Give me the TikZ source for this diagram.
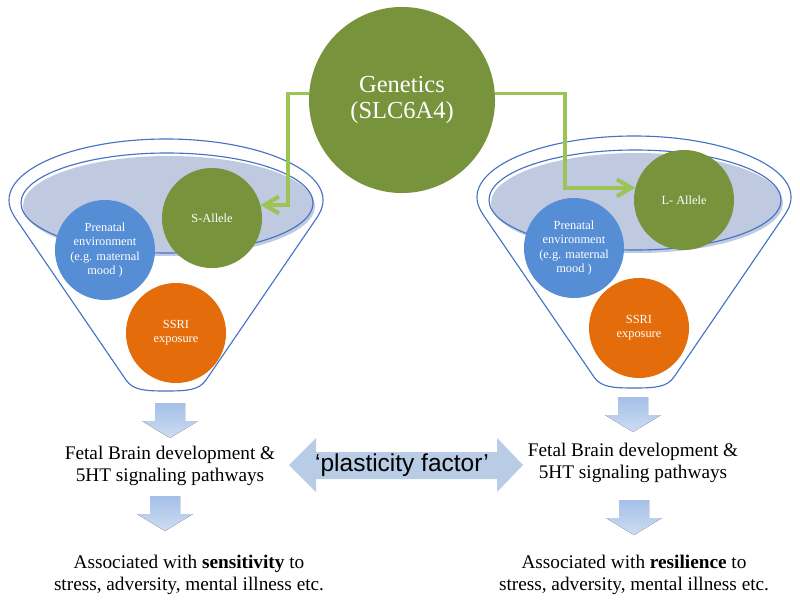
\documentclass[tikz,border=0pt]{standalone}
\usepackage{fontspec}
\setmainfont{Liberation Serif}
\newfontfamily\arialfont{Liberation Sans}
\usetikzlibrary{arrows.meta}
\definecolor{gengreen}{RGB}{119,147,60}
\definecolor{linkgreen}{RGB}{155,195,85}
\definecolor{envblue}{RGB}{85,142,213}
\definecolor{ssriorange}{RGB}{228,108,10}
\definecolor{rimblue}{RGB}{68,114,196}
\definecolor{bowlfill}{RGB}{191,201,224}
\definecolor{flowblue}{RGB}{184,204,230}
\definecolor{flowtop}{RGB}{165,192,232}
\definecolor{flowbot}{RGB}{205,220,242}

\begin{document}
\begin{tikzpicture}[x=0.025cm, y=-0.025cm,
  blob/.style={circle, minimum size=2.5cm, inner sep=0pt, text=white, align=center,
    font=\fontsize{8.8}{10}\selectfont},
  gene/.style={blob, fill=gengreen},
  env/.style={blob, fill=envblue},
  ssri/.style={blob, fill=ssriorange},
  rim/.style={draw=rimblue, line width=0.8pt},
  link/.style={draw=linkgreen, line width=2.8pt, -{Straight Barb[length=0.36cm, width=0.42cm]}},
  caption/.style={align=center, font=\fontsize{13.7}{15.8}\selectfont}]
\useasboundingbox (0,0) rectangle (800,604);

% the two funnels with their bowls
\foreach \cx/\cy in {166/200, 634/197} {
  \draw[rim] (\cx-157,\cy) .. controls (\cx-157,\cy-33) and (\cx-87,\cy-61) .. (\cx,\cy-61)
    .. controls (\cx+87,\cy-61) and (\cx+157,\cy-33) .. (\cx+157,\cy)
    .. controls (\cx+157,\cy+8) and (\cx+154,\cy+13) .. (\cx+150,\cy+19) -- (\cx+40,\cy+180)
    .. controls (\cx+33,\cy+190) and (\cx+22,\cy+191) .. (\cx,\cy+191)
    .. controls (\cx-22,\cy+191) and (\cx-33,\cy+190) .. (\cx-40,\cy+180) -- (\cx-150,\cy+19)
    .. controls (\cx-154,\cy+13) and (\cx-157,\cy+8) .. cycle;
  \fill[bowlfill] (\cx+3,\cy+6) ellipse [x radius=146, y radius=50];
  \draw[rim] (\cx+1,\cy+3) ellipse [x radius=146, y radius=50];
}

\draw(402,100) node[gene, minimum size=4.65cm, font=\fontsize{17.4}{18.5}\selectfont] (gen) {Genetics\\(SLC6A4)};

\draw(105,250) node[env] (envl) {Prenatal\\environment\\(e.g. maternal\\mood )};
\draw(212,218) node[gene] (sal) {S-Allele};
\draw(176,333) node[ssri] (ssril) {SSRI\\exposure};

\draw(574,248) node[env] (envr) {Prenatal\\environment\\(e.g. maternal\\mood )};
\draw(684,200) node[gene] (lal) {L- Allele};
\draw(639,328) node[ssri] (ssrir) {SSRI\\exposure};

\draw[link] (gen.176) -| ([xshift=0.675cm]sal.15) -- (sal.15);
\draw[link] (gen.4) -| ([xshift=-1.75cm]lal.166) -- (lal.166);

% block arrows
\foreach \x/\y in {170/403, 165/496, 633/397, 634/500}
  \fill[top color=flowtop, bottom color=flowbot] (\x-15,\y) -- (\x+15,\y) -- (\x+15,\y+18)
    -- (\x+28,\y+18) -- (\x,\y+35) -- (\x-28,\y+18) -- (\x-15,\y+18) -- cycle;

\fill[flowblue] (289,465) -- (316,438) -- (316,452) -- (497,452) -- (497,438) -- (523,465)
  -- (497,492) -- (497,479) -- (316,479) -- (316,492) -- cycle;
\draw(402,465) node[font=\arialfont\fontsize{17.4}{20}\selectfont] (plast) {‘plasticity factor’};

\draw(170,466) node[caption] (fetl) {Fetal Brain development \&\\5HT signaling pathways};
\draw(633,463) node[caption] (fetr) {Fetal Brain development \&\\5HT signaling pathways};
\draw(189,575) node[caption] (assl) {Associated with \textbf{sensitivity} to\\stress, adversity, mental illness etc.};
\draw(634,575) node[caption] (assr) {Associated with \textbf{resilience} to\\stress, adversity, mental illness etc.};
\end{tikzpicture}
\end{document}
